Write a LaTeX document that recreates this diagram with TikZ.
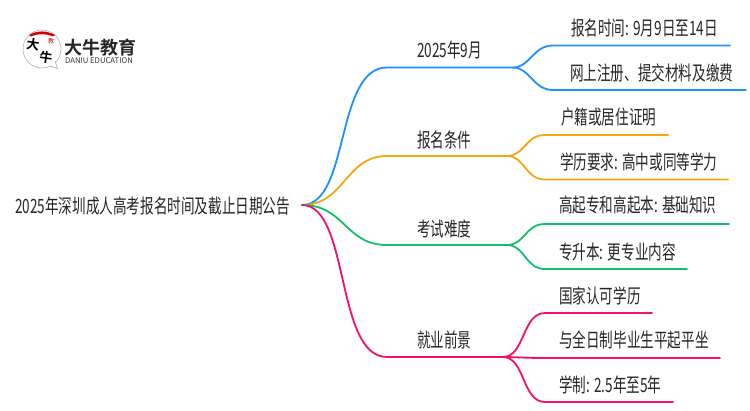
\documentclass[tikz,border=0pt]{standalone}
\usepackage{fontspec}
\setmainfont{Noto Sans CJK SC}[FakeStretch=0.69]
\newfontfamily\logofont{Noto Sans CJK SC}[BoldFont={* Bold}]
\definecolor{branchblue}{HTML}{1E90FF}
\definecolor{branchorange}{HTML}{F5A70F}
\definecolor{branchgreen}{HTML}{10C06A}
\definecolor{branchpink}{HTML}{F5106E}
\tikzset{%
  label/.style  = {anchor=west, inner sep=0pt, text=black!85, font=\fontsize{19.7}{20}\selectfont},%
  logochar/.style = {inner sep=0pt, rotate=-8, font=\logofont\fontsize{13}{13}\selectfont\bfseries},%
  branch/.style = {line width=1.8pt, line cap=round},%
  blueb/.style  = {branch, branchblue},%
  orangeb/.style = {branch, branchorange},%
  greenb/.style = {branch, branchgreen},%
  pinkb/.style  = {branch, branchpink}%
}
\begin{document}
\begin{tikzpicture}[x=1pt,y=-1pt]
	\useasboundingbox (0,0) rectangle (750,410);
	% logo
	\fill[white,draw=black!35,line width=0.5pt] (42,49) circle (19);
	\draw[black!35,line width=0.5pt,fill=white] (50,66) -- (57.5,68.5) -- (55,61);
	\fill[red!85!black] (29,35) to[bend left=28] (55,35) -- (53,36.5) to[bend right=22] (31,36.5) -- cycle;
	\node[logochar] (logoa) at (33,44) {大};
	\node[logochar] (logob) at (46,58) {牛};
	\node[inner sep=0pt,text=red!80!black,font=\logofont\fontsize{6}{6}\selectfont] (logoc) at (51,41) {教};
	\node[inner sep=0pt,anchor=west,text=black!85,font=\logofont\fontsize{18}{18}\selectfont\bfseries] (logotext) at (64,48) {大牛教育};
	\node[inner sep=0pt,anchor=west,text=black!80,font=\logofont\fontsize{7.7}{8}\selectfont] (logosub) at (65,60.5) {DANIU EDUCATION};
	% root
	\node[label] (root) at (15,206) {2025年深圳成人高考报名时间及截止日期公告};
	\coordinate (hub) at (302,205);
	% first level
	\node[label] (date) at (417,50) {2025年9月};
	\node[label] (cond) at (417,140) {报名条件};
	\node[label] (hard) at (417,229) {考试难度};
	\node[label] (jobs) at (417,340) {就业前景};
	% second level
	\node[label] (date1) at (571,28) {报名时间: 9月9日至14日};
	\node[label] (date2) at (570,73) {网上注册、提交材料及缴费};
	\node[label] (cond1) at (561,117) {户籍或居住证明};
	\node[label] (cond2) at (560,162) {学历要求: 高中或同等学力};
	\node[label] (hard1) at (559,205) {高起专和高起本: 基础知识};
	\node[label] (hard2) at (559,252) {专升本: 更专业内容};
	\node[label] (jobs1) at (559,296) {国家认可学历};
	\node[label] (jobs2) at (559,340) {与全日制毕业生平起平坐};
	\node[label] (jobs3) at (559,385) {学制: 2.5年至5年};
	% junctions
	\coordinate (dateh) at (513,67.5);
	\coordinate (condh) at (507,156);
	\coordinate (hardh) at (507,245);
	\coordinate (jobsh) at (503,357);
	\coordinate (date1e) at (730,45.5);
	\coordinate (date2e) at (746,90);
	\coordinate (cond1e) at (668,135);
	\coordinate (cond2e) at (728,179.5);
	\coordinate (hard1e) at (729,224);
	\coordinate (hard2e) at (687,269);
	\coordinate (jobs1e) at (652,313);
	\coordinate (jobs2e) at (720,358);
	\coordinate (jobs3e) at (673,402);
	% blue
	\draw[blueb] (hub) .. controls (350,205) and (335,67.5) .. (387,67.5) -- (dateh);
	\draw[blueb] (dateh) .. controls (530,67.5) and (533,45.5) .. (553,45.5) -- (date1e);
	\draw[blueb] (dateh) .. controls (530,67.5) and (533,90) .. (553,90) -- (date2e);
	% orange
	\draw[orangeb] (hub) .. controls (345,205) and (345,156) .. (387,156) -- (condh);
	\draw[orangeb] (condh) .. controls (525,156) and (525,135) .. (545,135) -- (cond1e);
	\draw[orangeb] (condh) .. controls (525,156) and (525,179.5) .. (545,179.5) -- (cond2e);
	% green
	\draw[greenb] (hub) .. controls (345,205) and (345,245) .. (387,245) -- (hardh);
	\draw[greenb] (hardh) .. controls (525,245) and (525,224) .. (545,224) -- (hard1e);
	\draw[greenb] (hardh) .. controls (525,245) and (525,269) .. (545,269) -- (hard2e);
	% pink
	\draw[pinkb] (hub) .. controls (350,205) and (335,357) .. (387,357) -- (jobsh);
	\draw[pinkb] (jobsh) .. controls (525,357) and (522,313) .. (545,313) -- (jobs1e);
	\draw[pinkb] (jobsh) .. controls (515,357) and (525,358) .. (545,358) -- (jobs2e);
	\draw[pinkb] (jobsh) .. controls (525,357) and (522,402) .. (545,402) -- (jobs3e);
\end{tikzpicture}
\end{document}
